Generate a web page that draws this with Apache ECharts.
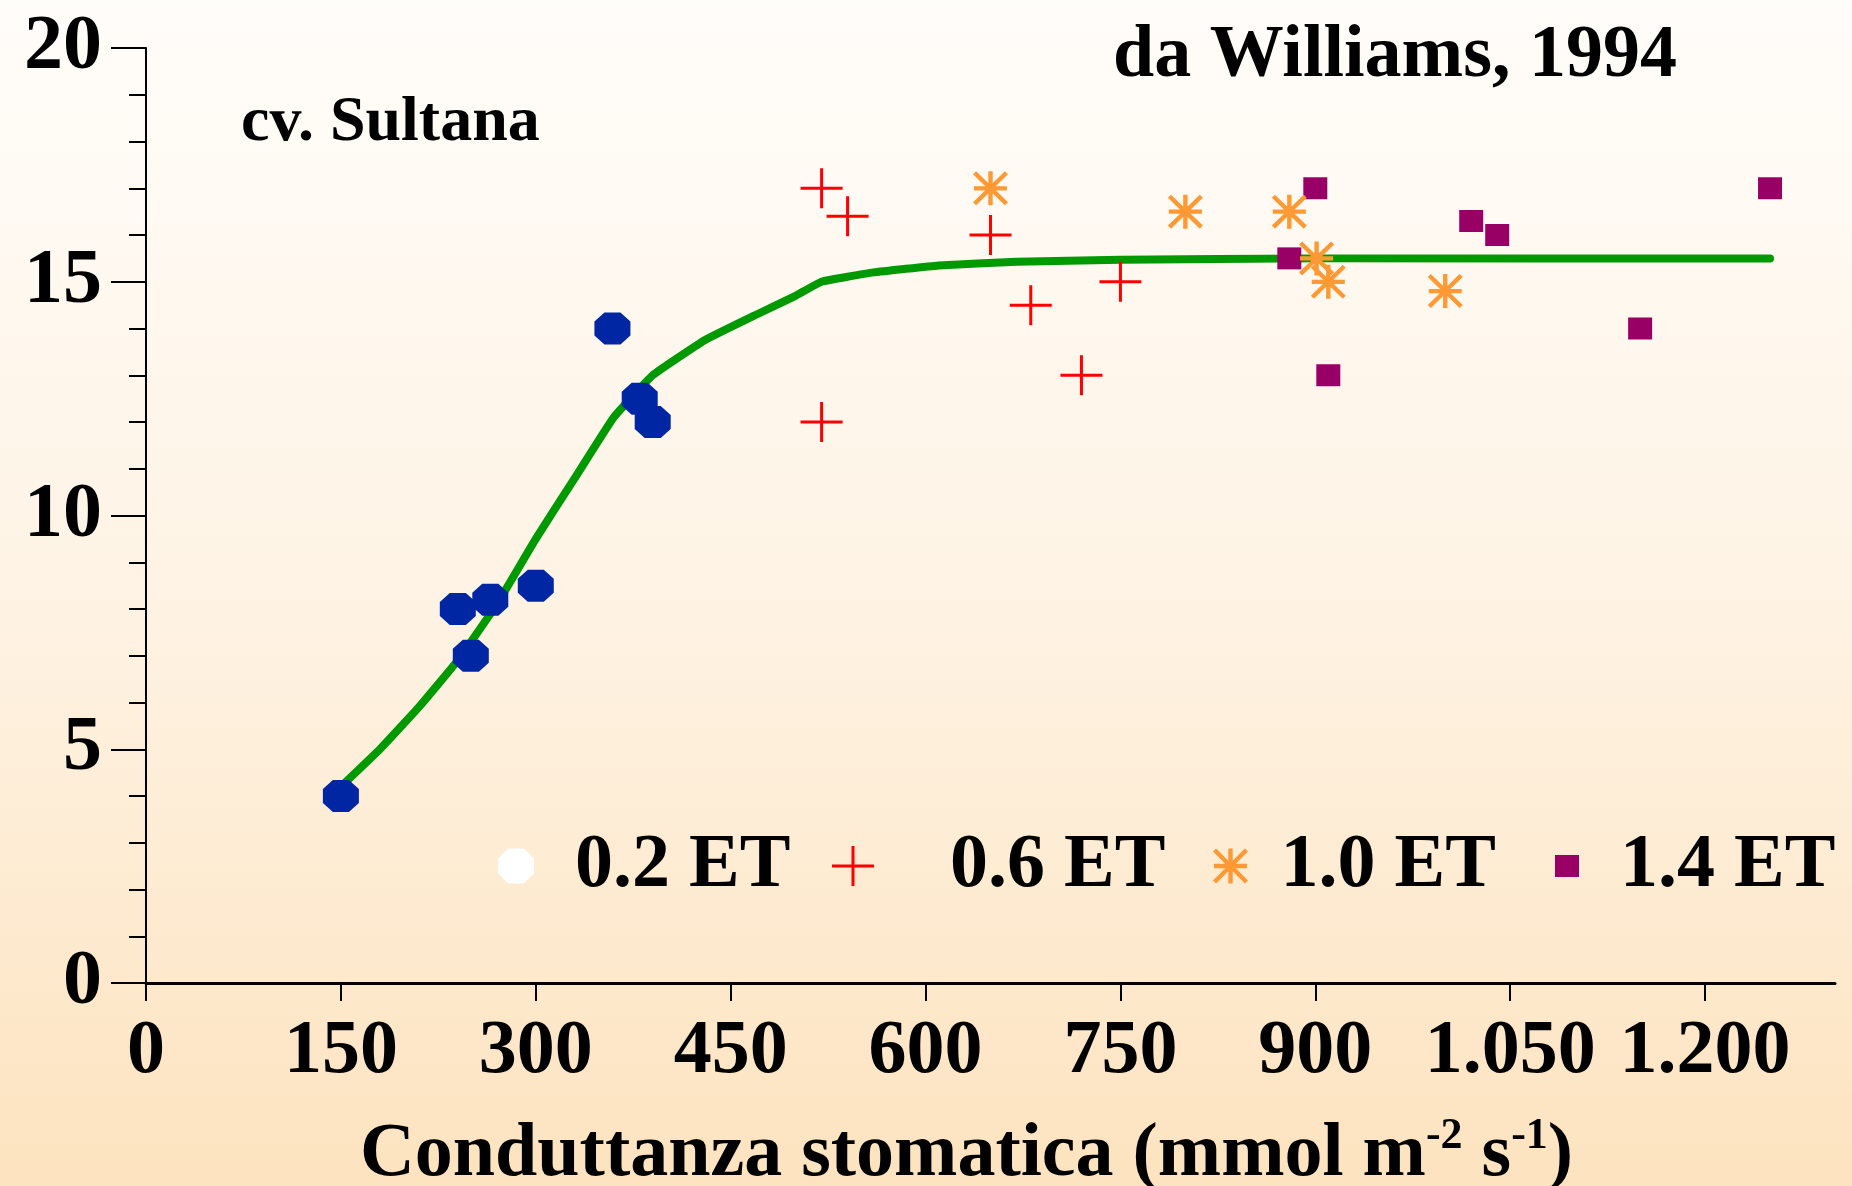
<!DOCTYPE html>
<html>
<head>
<meta charset="utf-8">
<script src="https://cdn.jsdelivr.net/npm/echarts@6/dist/echarts.min.js"></script>
<style>
  html, body { margin: 0; padding: 0; }
  #chart { width: 1852px; height: 1186px; }
</style>
</head>
<body>
<div id="chart"></div>
<script>
// Stomatal conductance (mmol m-2 s-1) vs. response, cv. Sultana, four irrigation levels
const xTicks = [0, 150, 300, 450, 600, 750, 900, 1050, 1200];
const yTicks = [0, 5, 10, 15, 20];

const et02 = [[150, 4.0], [240, 8.0], [250, 7.0], [265, 8.2], [300, 8.5], [359, 14.0], [380, 12.5], [390, 12.0]];
const et06 = [[520, 17.0], [540, 16.4], [650, 16.0], [520, 12.0], [681, 14.5], [720, 13.0], [750, 15.0]];
const et10 = [[650, 17.0], [800, 16.5], [880, 16.5], [901, 15.5], [910, 15.0], [1000, 14.8]];
const et14 = [[900, 17.0], [880, 15.5], [910, 13.0], [1020, 16.3], [1040, 16.0], [1150, 14.0], [1250, 17.0]];

// fitted response curve
const fitCurve = [
  [150, 4.2], [180, 5.0], [210, 5.9], [240, 6.9], [270, 8.1], [300, 9.5], [330, 10.8],
  [360, 12.1], [390, 13.0], [430, 13.75], [470, 14.3], [500, 14.7], [520, 15.0],
  [560, 15.2], [610, 15.35], [670, 15.43], [750, 15.47], [900, 15.5], [1250, 15.5]
];

const seriesNames = ['0.2 ET', '0.6 ET', '1.0 ET', '1.4 ET'];

const FONT = 'Liberation Serif';
const OCTAGON = 'path://M10,0H26L36,9V23L26,32H10L0,23V9Z';
const OCTAGON_LEG = 'path://M10,0H26L36,10V25L26,35H10L0,25V10Z';
const CROSS = 'path://M0,18.5H42V21.5H0Z M19.5,0H22.5V40H19.5Z';
const ASTERISK = 'path://M15.75,0H20.25V36H15.75Z M1,15.75H35V20.25H1Z ' +
  'M3.2,0L36,32.8L32.8,36L0,3.2Z M36,3.2L3.2,36L0,32.8L32.8,0Z';
const SQUARE = 'path://M0,0H24V22H0Z';

const COLORS = { blue: '#0026a3', red: '#ff0000', orange: '#ff9933', purple: '#990066', green: '#009900' };

const fmtThousands = v => String(v).replace(/\B(?=(\d{3})+(?!\d))/g, '.');

const legendText = { fontFamily: FONT, fontWeight: 'bold', fontSize: 76, lineHeight: 76, color: '#000' };
// one legend block per series so that each marker/label pair sits at its own spot;
// the block is placed by the left edge of its icon
function legendItem(name, icon, color, left, w, h) {
  return {
    data: [{ name: name, icon: icon, itemStyle: { color: color, borderWidth: 0 } }],
    left: left, top: 828, padding: 0,
    itemWidth: w, itemHeight: h,
    selectedMode: false,
    textStyle: legendText
  };
}

const chart = echarts.init(document.getElementById('chart'));
chart.setOption({
  animation: false,
  backgroundColor: {
    type: 'linear', x: 0, y: 0, x2: 0, y2: 1,
    colorStops: [
      { offset: 0, color: '#fffdfa' },
      { offset: 0.5, color: '#fef3e4' },
      { offset: 1, color: '#fde3bf' }
    ]
  },
  grid: { left: 146, right: 17, top: 48, bottom: 203, containLabel: false, outerBoundsMode: 'none' },
  xAxis: {
    type: 'value', min: 0, max: 1300, interval: 150,
    axisLine: { lineStyle: { color: '#000', width: 3 } },
    axisTick: { show: true, length: 18, customValues: xTicks, lineStyle: { color: '#000', width: 2 } },
    axisLabel: {
      customValues: xTicks, margin: 31,
      fontFamily: FONT, fontWeight: 'bold', fontSize: 76, lineHeight: 76, color: '#000',
      formatter: v => fmtThousands(v)
    },
    splitLine: { show: false },
    name: '{n|Conduttanza stomatica (mmol m}{s|-2}{n| s}{s|-1}{n|)}',
    nameLocation: 'middle', nameGap: 132,
    nameTextStyle: {
      padding: [0, 48, 0, 0],
      rich: {
        n: { fontFamily: FONT, fontWeight: 'bold', fontSize: 76, lineHeight: 80, color: '#000' },
        s: { fontFamily: FONT, fontWeight: 'bold', fontSize: 44, lineHeight: 60, verticalAlign: 'top', color: '#000' }
      }
    }
  },
  yAxis: {
    type: 'value', min: 0, max: 20, interval: 5,
    axisLine: { show: true, lineStyle: { color: '#000', width: 2 } },
    axisTick: { show: true, length: 35, lineStyle: { color: '#000', width: 2 } },
    minorTick: { show: true, splitNumber: 5, length: 17, lineStyle: { color: '#000', width: 2 } },
    axisLabel: {
      customValues: yTicks, margin: 44,
      fontFamily: FONT, fontWeight: 'bold', fontSize: 78, color: '#000'
    },
    splitLine: { show: false },
    minorSplitLine: { show: false }
  },
  legend: [
    legendItem(seriesNames[0], OCTAGON_LEG, '#ffffff', 498, 108, 35),
    legendItem(seriesNames[1], CROSS, COLORS.red, 832, 184, 40),
    legendItem(seriesNames[2], ASTERISK, COLORS.orange, 1213, 90, 35),
    legendItem(seriesNames[3], SQUARE, COLORS.purple, 1555, 96, 22)
  ],
  graphic: [
    { type: 'text', left: 241, top: 129 - 38,
      style: { text: 'cv. Sultana', font: 'bold 64px "Liberation Serif"', fill: '#000' } },
    { type: 'text', left: 1113, top: 57 - 37,
      style: { text: 'da Williams, 1994', font: 'bold 74px "Liberation Serif"', fill: '#000' } }
  ],
  series: [
    {
      name: 'fit', type: 'line', data: fitCurve, showSymbol: false, smooth: 0.1, z: 1,
      lineStyle: { color: COLORS.green, width: 8, cap: 'round', join: 'round' }, silent: true
    },
    { name: seriesNames[0], type: 'scatter', data: et02, symbol: OCTAGON, symbolSize: [36, 32],
      itemStyle: { color: COLORS.blue, opacity: 1 }, z: 3 },
    { name: seriesNames[1], type: 'scatter', data: et06, symbol: CROSS, symbolSize: [42, 40],
      itemStyle: { color: COLORS.red, opacity: 1 }, z: 3 },
    { name: seriesNames[2], type: 'scatter', data: et10, symbol: ASTERISK, symbolSize: [35, 34],
      itemStyle: { color: COLORS.orange, opacity: 1 }, z: 4 },
    { name: seriesNames[3], type: 'scatter', data: et14, symbol: 'rect', symbolSize: [24, 22],
      itemStyle: { color: COLORS.purple, opacity: 1 }, z: 3 }
  ]
});
</script>
</body>
</html>
